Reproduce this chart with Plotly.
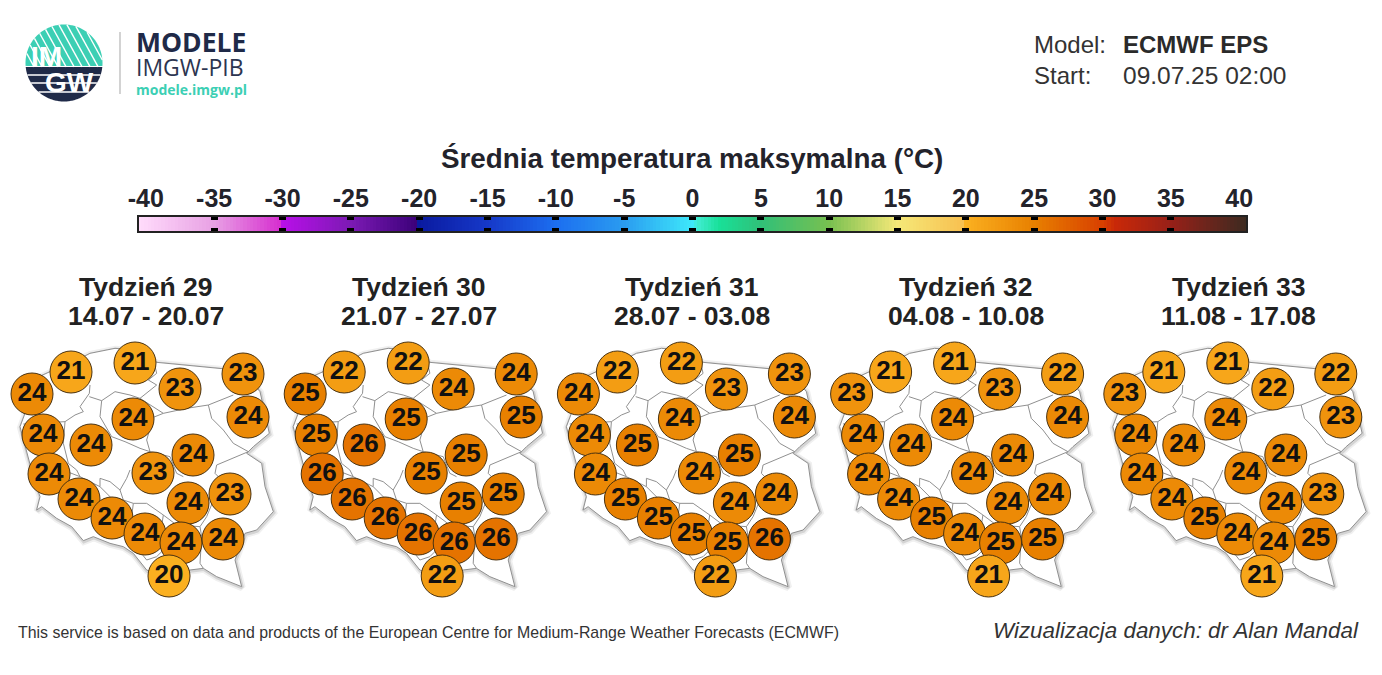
import numpy as np
import plotly.graph_objects as go

WEEKS = ["Tydzień 29", "Tydzień 30", "Tydzień 31", "Tydzień 32", "Tydzień 33"]
DATES = ["14.07 - 20.07", "21.07 - 27.07", "28.07 - 03.08", "04.08 - 10.08", "11.08 - 17.08"]
WEEK_29 = [21, 21, 24, 23, 23, 24, 24, 24, 24, 24, 24, 23, 24, 24, 23, 24, 24, 24, 24, 20]
WEEK_30 = [22, 22, 25, 24, 24, 25, 25, 25, 26, 26, 25, 25, 26, 25, 25, 26, 26, 26, 26, 22]
WEEK_31 = [22, 22, 24, 23, 23, 24, 24, 24, 25, 24, 25, 24, 25, 24, 24, 25, 25, 25, 26, 22]
WEEK_32 = [21, 21, 23, 23, 22, 24, 24, 24, 24, 24, 24, 24, 24, 24, 24, 25, 24, 25, 25, 21]
WEEK_33 = [21, 21, 23, 22, 22, 23, 24, 24, 24, 24, 24, 24, 24, 24, 23, 25, 24, 24, 25, 21]
WEEK_VALUES = [WEEK_29, WEEK_30, WEEK_31, WEEK_32, WEEK_33]

# polozenie punktow na pierwszej mapie (piksele strony)
POINT_X = [71, 135, 32, 180, 243, 248, 133, 43, 91, 49, 193, 153, 79, 188, 230, 112, 145, 181, 223, 169]
POINT_Y = [372, 363, 394, 389, 374, 417, 419, 435, 445, 474, 455, 473, 499, 503, 494, 518, 534, 543, 539, 576]
PANEL_STEP = 273.2

SCALE_TICKS = list(range(-40, 41, 5))
SCALE_COLORS = [
    (-40.5, "#ffdcfb"), (-35, "#e8a0e4"), (-30.05, "#d62ccf"), (-30, "#b80fe8"),
    (-25, "#7c1ab4"), (-20.05, "#3a0078"), (-20, "#0a1aa0"), (-15, "#1638c8"),
    (-10, "#1c6ef0"), (-5, "#2a9cf0"), (0, "#3ee8fa"), (0.4, "#40ecd0"), (2, "#18e098"),
    (5, "#30c078"), (10, "#78c050"), (15, "#f5e878"), (19.9, "#f8c050"), (20, "#fbb020"),
    (25, "#e88000"), (30, "#d84000"), (31, "#c82808"), (35, "#982018"), (40.5, "#3e2a20"),
]

# kontur Polski i granice wojewodztw, wspolrzedne z powiekszenia pierwszej mapy
OUTLINE = [
    (95, 150), (150, 125), (212, 100), (270, 70), (345, 55), (405, 60), (470, 97), (560, 105),
    (665, 115), (729, 122), (780, 185), (808, 310), (760, 350), (740, 370), (785, 400), (795, 470),
    (820, 545), (770, 600), (735, 610), (705, 690), (725, 770), (650, 740), (610, 715), (570, 720),
    (510, 745), (440, 720), (400, 670), (370, 650), (330, 640), (280, 620), (250, 632), (215, 590),
    (170, 565), (125, 530), (110, 540), (120, 500), (100, 440), (70, 330), (60, 290), (75, 250),
    (60, 220), (70, 175),
]
BORDERS = [
    [(270, 165), (268, 190), (240, 230), (250, 245), (225, 255), (195, 275), (70, 282)],
    [(268, 200), (305, 212), (345, 185), (390, 195), (420, 205), (470, 165), (445, 150), (470, 130), (462, 95)],
    [(305, 212), (300, 260), (335, 320), (375, 335), (420, 355), (450, 365), (510, 380), (530, 430), (550, 440)],
    [(420, 205), (490, 250), (460, 262), (440, 330), (450, 365)],
    [(490, 250), (560, 235), (625, 225), (700, 195)],
    [(625, 225), (635, 265), (670, 300), (700, 340), (745, 365)],
    [(745, 365), (650, 405), (645, 430), (665, 450), (620, 560), (600, 590), (605, 620), (600, 700), (610, 715)],
    [(195, 275), (190, 340), (205, 400), (230, 420), (240, 440), (300, 470), (340, 510), (370, 510)],
    [(240, 440), (150, 405), (100, 440)],
    [(300, 470), (300, 445), (330, 455), (360, 480), (380, 445), (390, 420)],
    [(360, 480), (370, 510), (400, 520), (440, 520), (490, 555), (530, 585), (600, 590)],
    [(400, 520), (390, 600), (400, 640), (440, 690), (470, 680), (510, 640)],
    [(490, 555), (480, 620), (510, 640), (530, 585)],
]


def map_xy(points, shift):
    return [p[0] / 3 + shift for p in points], [p[1] / 3 + 330 for p in points]


def logo_shapes():
    cx, cy, r, split = 64, 63, 38.5, 67
    shapes = []
    ang = np.linspace(0, 2 * np.pi, 241)
    px, py = cx + r * np.cos(ang), cy + r * np.sin(ang)
    for keep, color in ((py <= split, "#3ccfb4"), (py >= split, "#1f2a48")):
        pts = sorted(zip(px[keep], py[keep]), key=lambda p: np.arctan2(p[1] - split, p[0] - cx))
        path = "M " + " L ".join(f"{a:.2f} {b:.2f}" for a, b in pts) + " Z"
        shapes.append(dict(type="path", path=path, fillcolor=color, line_width=0, layer="below"))
    # paski w logo
    t = np.linspace(-60, 60, 961)
    for off in np.arange(-48, 60, 8):
        x = cx + off + 0.55 * t
        y = cy + t
        ok = ((x - cx) ** 2 + (y - cy) ** 2 < r ** 2) & (y < split)
        if ok.any():
            shapes.append(dict(type="line", x0=x[ok][0], y0=y[ok][0], x1=x[ok][-1], y1=y[ok][-1],
                               line=dict(color="white", width=1.4), layer="below"))
    for y in (75, 83, 92):
        half = np.sqrt(r ** 2 - (y - cy) ** 2)
        shapes.append(dict(type="line", x0=cx - half, y0=y, x1=cx + half, y1=y,
                           line=dict(color="white", width=1.4), layer="below"))
    shapes.append(dict(type="line", x0=120, y0=32, x1=120, y1=94, line=dict(color="#b5b5b5", width=1.2)))
    return shapes


def label(x, y, text, size, color="#222222", bold=False, italic=False, anchor="center", family="Liberation Sans"):
    if anchor == "left":
        x -= 2
    return dict(x=x, y=y, text=f"<b>{text}</b>" if bold else (f"<i>{text}</i>" if italic else text),
                xref="x", yref="y", xanchor=anchor, yanchor="middle", showarrow=False,
                font=dict(family=family, size=size, color=color))


zmin, zmax = SCALE_COLORS[0][0], SCALE_COLORS[-1][0]
colorscale = [[(v - zmin) / (zmax - zmin), c] for v, c in SCALE_COLORS]

fig = go.Figure()

scale_x = np.arange(zmin, zmax + 0.01, 0.25)
fig.add_trace(go.Heatmap(x=scale_x, y=[0, 1], z=[scale_x, scale_x], zmin=zmin, zmax=zmax,
                         colorscale=colorscale, showscale=False, xaxis="x2", yaxis="y2", hoverinfo="skip"))

annotations = []
for i, (week, dates, values) in enumerate(zip(WEEKS, DATES, WEEK_VALUES)):
    shift = i * PANEL_STEP
    sx, sy = map_xy(OUTLINE + OUTLINE[:1], shift)
    fig.add_trace(go.Scatter(x=[a + 0.5 for a in sx], y=[b + 1 for b in sy], mode="lines",
                             line=dict(color="#f0f0f0", width=7), hoverinfo="skip"))
    fig.add_trace(go.Scatter(x=[a + 0.5 for a in sx], y=[b + 1 for b in sy], mode="lines",
                             line=dict(color="#d4d4d4", width=3.5), hoverinfo="skip"))
    fig.add_trace(go.Scatter(x=sx, y=sy, mode="lines", fill="toself", fillcolor="white",
                             line=dict(color="#909090", width=1), hoverinfo="skip"))
    for border in BORDERS:
        bx, by = map_xy(border, shift)
        fig.add_trace(go.Scatter(x=bx, y=by, mode="lines", line=dict(color="#909090", width=1), hoverinfo="skip"))
    fig.add_trace(go.Scatter(
        x=[p + shift for p in POINT_X], y=POINT_Y, mode="markers+text",
        text=[str(v) for v in values], textposition="middle center",
        textfont=dict(family="Liberation Sans", size=26, color="#111111", weight="bold"),
        marker=dict(size=42, color=values, cmin=zmin, cmax=zmax, colorscale=colorscale,
                    line=dict(color="#4a3210", width=1)),
        name=week,
    ))
    annotations.append(label(146 + shift, 287, week, 26.5, bold=True))
    annotations.append(label(146 + shift, 316, dates, 26.5, bold=True))

annotations += [
    label(692, 158, "Średnia temperatura maksymalna (°C)", 27.8, color="#23232b", bold=True),
    label(1034, 44, "Model:", 24, color="#333333", anchor="left"),
    label(1123, 44, "ECMWF EPS", 24, color="#2a2a2a", bold=True, anchor="left"),
    label(1034, 75, "Start:", 24, color="#333333", anchor="left"),
    label(1123, 75, "09.07.25 02:00", 24.5, color="#333333", anchor="left"),
    label(18, 632, "This service is based on data and products of the European Centre for Medium-Range Weather Forecasts (ECMWF)",
          15.9, color="#333333", anchor="left"),
    label(993, 630, "Wizualizacja danych: dr Alan Mandal", 22.4, color="#333333", italic=True, anchor="left"),
    label(136, 42, "MODELE", 26.5, color="#1f2a48", bold=True, anchor="left", family="Open Sans"),
    label(136, 67, "IMGW-PIB", 23, color="#2c3550", anchor="left", family="Open Sans"),
    label(136, 89, "modele.imgw.pl", 14, color="#3ccfb4", bold=True, anchor="left", family="Open Sans"),
    label(46, 56, "IM", 28, color="white", bold=True),
    label(69, 82, "GW", 28, color="white", bold=True),
]

fig.update_layout(
    width=1382, height=675, autosize=False, showlegend=False,
    margin=dict(l=0, r=0, t=0, b=0),
    paper_bgcolor="white", plot_bgcolor="rgba(0,0,0,0)",
    shapes=logo_shapes(), annotations=annotations,
    xaxis=dict(range=[0, 1382], domain=[0, 1], visible=False, fixedrange=True, automargin=False),
    yaxis=dict(range=[675, 0], domain=[0, 1], visible=False, fixedrange=True, automargin=False),
    xaxis2=dict(range=[zmin, zmax], domain=[139 / 1382, 1246 / 1382], anchor="y2", side="top", automargin=False,
                tickmode="array", tickvals=SCALE_TICKS, ticktext=[str(v) for v in SCALE_TICKS], ticks="",
                ticklabelstandoff=-2,
                minor=dict(tickmode="array", tickvals=SCALE_TICKS[1:-1], ticks="inside", ticklen=3,
                           tickwidth=7, tickcolor="black", showgrid=False),
                mirror="allticks", showline=True, linecolor="#222222", linewidth=1.6,
                showgrid=False, zeroline=False,
                tickfont=dict(family="Liberation Sans", size=25, color="#23232b", weight="bold")),
    yaxis2=dict(range=[0, 1], domain=[1 - 231 / 675, 1 - 217 / 675], anchor="x2", visible=True, automargin=False,
                showticklabels=False, ticks="", showgrid=False, zeroline=False,
                showline=True, linecolor="#222222", linewidth=1.6, mirror=True),
)

fig.write_html("out.html", config={"displayModeBar": False},
               post_script="document.body.style.margin='0';document.body.style.overflow='hidden';")
